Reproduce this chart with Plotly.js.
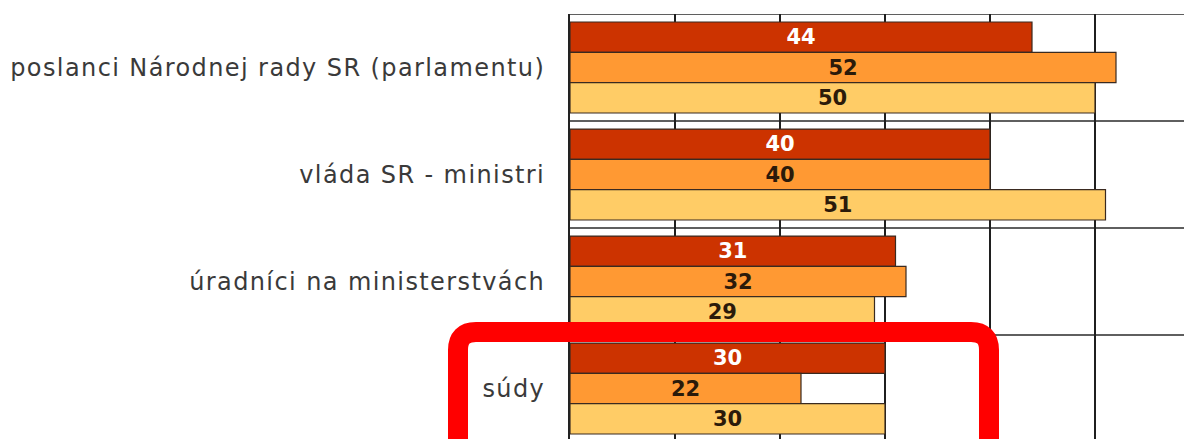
<!DOCTYPE html>
<html>
<head>
<meta charset="utf-8">
<script src="https://cdn.plot.ly/plotly-3.0.1.min.js"></script>
<style>
html,body{margin:0;padding:0;background:#fff;}
#chart{width:1184px;height:439px;}
#chart .ytick text{letter-spacing:1.4px;}
</style>
</head>
<body>
<div id="chart"></div>
<script>
const categories = [
  "poslanci Národnej rady SR (parlamentu)",
  "vláda SR - ministri",
  "úradníci na ministerstvách",
  "súdy"
];
const series1 = [44, 40, 31, 30];
const series2 = [52, 40, 32, 22];
const series3 = [50, 51, 29, 30];
const seriesNames = ["séria 1", "séria 2", "séria 3"];

const W = 1184, H = 439;
const M = {l: 570, r: 0, t: 14, b: 0};
const PW = W - M.l - M.r, PH = H - M.t - M.b;
const px = x => (x - M.l) / PW;
const py = y => (H - M.b - y) / PH;

function bar(vals, name, color, textColor) {
  return {
    type: 'bar', orientation: 'h', y: categories, x: vals, name: name,
    marker: {color: color, line: {color: '#3a2a20', width: 1.2}},
    text: vals.map(String), textposition: 'inside', insidetextanchor: 'middle',
    textangle: 0,
    textfont: {family: 'DejaVu Sans, Verdana, sans-serif', size: 21, color: textColor, weight: 'bold'},
    cliponaxis: false, hoverinfo: 'x+y'
  };
}

const data = [
  bar(series1, seriesNames[0], '#CC3300', '#ffffff'),
  bar(series2, seriesNames[1], '#FF9933', '#2b1a0a'),
  bar(series3, seriesNames[2], '#FFCC66', '#2b1a0a')
];

// category boundary lines
const shapes = [-0.5, 0.5, 1.5, 2.5].map(v => ({
  type: 'line', xref: 'paper', yref: 'y', x0: 0, x1: 1, y0: v, y1: v,
  line: {color: '#2a2a2a', width: 1.5}, layer: 'below'
}));

// red rounded highlight rectangle
(function(){
  const L = 458, R = 989, T = 332, B = 470, r = 18;
  const p = `M ${px(L+r)},${py(T)} L ${px(R-r)},${py(T)} Q ${px(R)},${py(T)} ${px(R)},${py(T+r)} ` +
            `L ${px(R)},${py(B)} L ${px(L)},${py(B)} L ${px(L)},${py(T+r)} Q ${px(L)},${py(T)} ${px(L+r)},${py(T)} Z`;
  shapes.push({type: 'path', xref: 'paper', yref: 'paper', path: p,
    line: {color: '#FF0000', width: 20}, fillcolor: 'rgba(0,0,0,0)', layer: 'above'});
})();

const layout = {
  width: W, height: H,
  margin: M,
  paper_bgcolor: '#ffffff', plot_bgcolor: '#ffffff',
  barmode: 'group', bargap: 0.15, bargroupgap: 0,
  showlegend: false,
  xaxis: {
    range: [0, PW / 10.5], dtick: 10, tick0: 0,
    showgrid: true, gridcolor: '#1f1f1f', gridwidth: 1.5,
    zeroline: false, showline: false, showticklabels: false, ticks: ''
  },
  yaxis: {
    type: 'category',
    range: [-0.5 + PH / 107, -0.5],
    showgrid: false, zeroline: false,
    showline: true, linecolor: '#222', linewidth: 2,
    ticks: '', ticklabelstandoff: 18,
    tickfont: {family: 'DejaVu Sans, Verdana, sans-serif', size: 24, color: '#3a3a3a'}
  },
  shapes: shapes,
  font: {family: 'DejaVu Sans, Verdana, sans-serif'}
};

Plotly.newPlot('chart', data, layout, {displayModeBar: false, staticPlot: true});
</script>
</body>
</html>
